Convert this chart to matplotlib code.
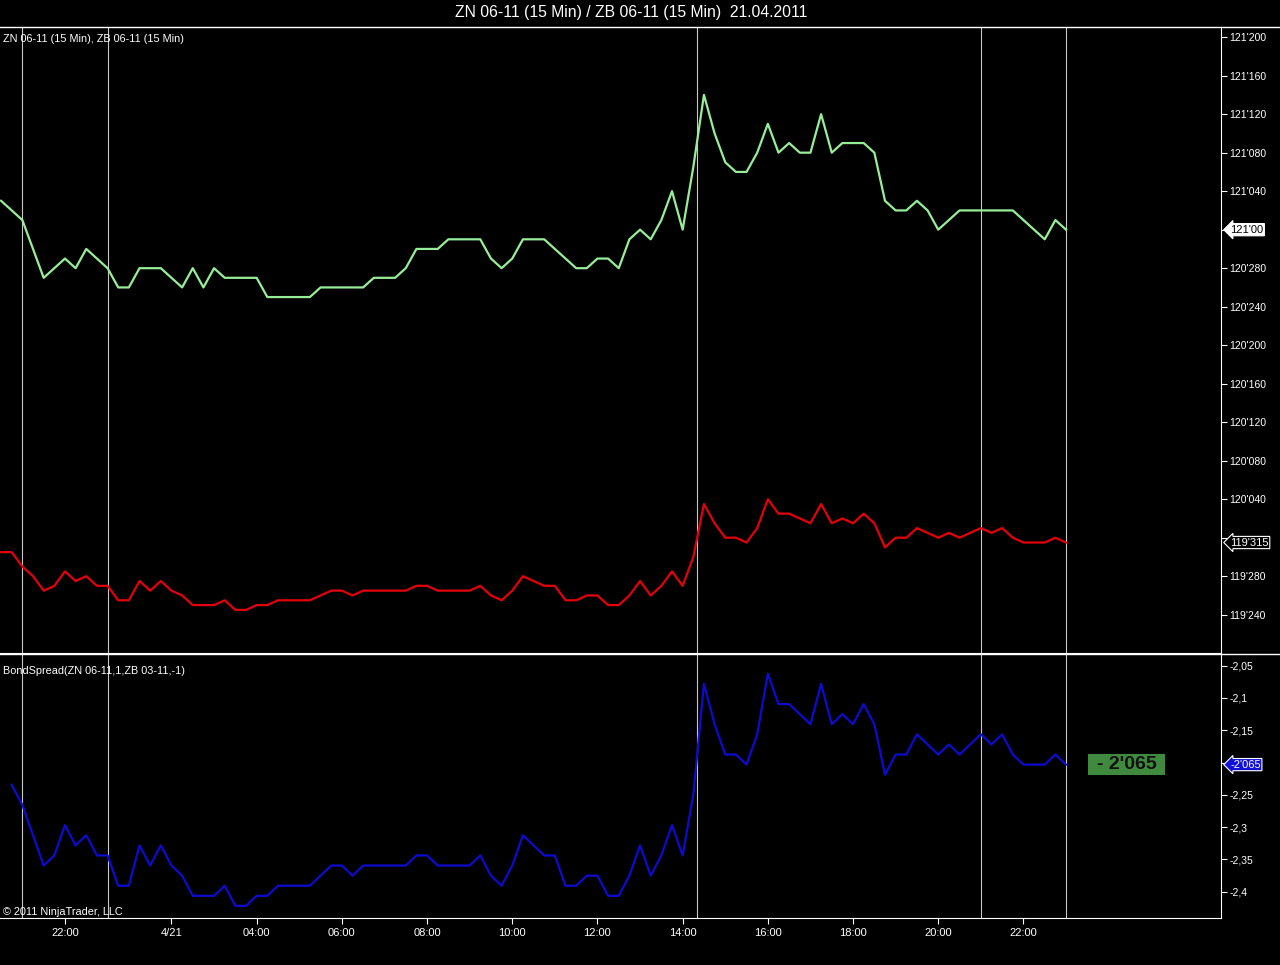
import matplotlib
matplotlib.use('Agg')
import matplotlib.pyplot as plt
import matplotlib.transforms as mtransforms
from matplotlib.lines import Line2D
from matplotlib.patches import Rectangle
import numpy as np

plt.rcParams['font.family'] = ['Liberation Sans', 'DejaVu Sans']

# 15 min bars from 20.04 20:30 to 21.04 23:00
# ZN in 32nds above 121'000
zn_32 = [3, 2, 1, -2, -5, -4, -3, -4, -2, -3, -4,
         -6, -6, -4, -4, -4, -5, -6, -4, -6, -4,
         -5, -5, -5, -5, -7, -7, -7, -7, -7, -6,
         -6, -6, -6, -6, -5, -5, -5, -4, -2, -2,
         -2, -1, -1, -1, -1, -3, -4, -3, -1, -1,
         -1, -2, -3, -4, -4, -3, -3, -4, -1, 0,
         -1, 1, 4, 0, 6.5, 14, 10, 7, 6, 6,
         8, 11, 8, 9, 8, 8, 12, 8, 9, 9,
         9, 8, 3, 2, 2, 3, 2, 0, 1, 2,
         2, 2, 2, 2, 2, 1, 0, -1, 1, 0]
# ZB in 32nds above 120'000
zb_32 = [-1.5, -1.5, -3, -4, -5.5, -5, -3.5, -4.5, -4, -5, -5,
         -6.5, -6.5, -4.5, -5.5, -4.5, -5.5, -6, -7, -7, -7,
         -6.5, -7.5, -7.5, -7, -7, -6.5, -6.5, -6.5, -6.5, -6,
         -5.5, -5.5, -6, -5.5, -5.5, -5.5, -5.5, -5.5, -5, -5,
         -5.5, -5.5, -5.5, -5.5, -5, -6, -6.5, -5.5, -4, -4.5,
         -5, -5, -6.5, -6.5, -6, -6, -7, -7, -6, -4.5,
         -6, -5, -3.5, -5, -2, 3.5, 1.5, 0, 0, -0.5,
         1, 4, 2.5, 2.5, 2, 1.5, 3.5, 1.5, 2, 1.5,
         2.5, 1.5, -1, 0, 0, 1, 0.5, 0, 0.5, 0,
         0.5, 1, 0.5, 1, 0, -0.5, -0.5, -0.5, 0, -0.5]
# BondSpread in 64ths below -2
spread_64 = [np.nan, 15, 17, 20, 23, 22, 19, 21, 20, 22, 22,
             25, 25, 21, 23, 21, 23, 24, 26, 26, 26,
             25, 27, 27, 26, 26, 25, 25, 25, 25, 24,
             23, 23, 24, 23, 23, 23, 23, 23, 22, 22,
             23, 23, 23, 23, 22, 24, 25, 23, 20, 21,
             22, 22, 25, 25, 24, 24, 26, 26, 24, 21,
             24, 22, 19, 22, 16, 5, 9, 12, 12, 13,
             10, 4, 7, 7, 8, 9, 5, 9, 8, 9,
             7, 9, 14, 12, 12, 10, 11, 12, 11, 12,
             11, 10, 11, 10, 12, 13, 13, 13, 12, 13]

time_ticks = [6, 16, 24, 32, 40, 48, 56, 64, 72, 80, 88, 96]
time_labels = ['22:00', '4/21', '04:00', '06:00', '08:00', '10:00',
               '12:00', '14:00', '16:00', '18:00', '20:00', '22:00']
session_lines = [2, 10, 65.33, 92, 100]

price_ticks = np.arange(119.75, 121.626, 0.125)
spread_ticks = [-2.05, -2.1, -2.15, -2.2, -2.25, -2.3, -2.35, -2.4]
# tick labels hidden behind the last-value markers
hidden_price = [121.0, 120.0]
hidden_spread = [-2.2]

zn = 121 + np.array(zn_32) / 32
zb = 120 + np.array(zb_32) / 32
spread = -2 - np.array(spread_64) / 64
bars = np.arange(len(zn))


def fmt32(p):
    whole = int(np.floor(p + 1e-9))
    frac = int(round((p - whole) * 320))
    return f"{whole}'{frac:03d}"


W, H = 1280, 965
fig = plt.figure(figsize=(W / 100, H / 100), dpi=100, facecolor='black')
ax1 = fig.add_axes([0, 1 - 653 / H, 1221 / W, 626 / H], facecolor='black')
ax2 = fig.add_axes([0, 1 - 918 / H, 1221 / W, 264 / H], facecolor='black', sharex=ax1)

for ax in (ax1, ax2):
    for x in session_lines:
        ax.axvline(x, color='#c8c8c8', lw=0.8, zorder=1)
    for s in ('left', 'top'):
        ax.spines[s].set_visible(False)
    ax.spines['right'].set_color('white')
    ax.spines['bottom'].set_color('white')
    ax.yaxis.tick_right()
    ax.tick_params(axis='y', colors='white', length=4, width=0.8, labelsize=7.5, pad=2)

ax1.plot(bars, zn, color='#98ee98', lw=1.6, zorder=3)
ax1.plot(bars, zb, color='#e4000a', lw=1.6, zorder=3)
ax2.plot(bars, spread, color='#0c0cd0', lw=1.6, zorder=3)

ax1.set_xlim(-0.1, 114.55)
ax1.set_ylim(119.6257, 121.658)
ax2.set_ylim(-2.4406, -2.0319)

ax1.set_yticks(price_ticks)
ax1.set_yticklabels(['' if any(abs(p - h) < 1e-6 for h in hidden_price) else fmt32(p)
                     for p in price_ticks])
ax2.set_yticks(spread_ticks)
ax2.set_yticklabels(['' if v in hidden_spread else f"{v:g}".replace('.', ',')
                     for v in spread_ticks])

ax1.tick_params(axis='x', bottom=False, labelbottom=False)
ax2.set_xticks(time_ticks)
ax2.set_xticklabels(time_labels)
ax2.tick_params(axis='x', colors='white', length=4, width=0.8, labelsize=8, pad=3)

# full width separators
for yp in (27, 653.5):
    fig.add_artist(Line2D([0, 1], [1 - yp / H] * 2, color='white', lw=1,
                          transform=fig.transFigure))

fig.text(631 / W, 1 - 13 / H, 'ZN 06-11 (15 Min) / ZB 06-11 (15 Min)  21.04.2011',
         color='white', fontsize=11.3, ha='center', va='center')
fig.text(3 / W, 1 - 39 / H, 'ZN 06-11 (15 Min), ZB 06-11 (15 Min)',
         color='white', fontsize=7.8, ha='left', va='center')
fig.text(3 / W, 1 - 671 / H, 'BondSpread(ZN 06-11,1,ZB 03-11,-1)',
         color='white', fontsize=7.8, ha='left', va='center')
fig.text(3 / W, 1 - 912 / H, '\u00a9 2011 NinjaTrader, LLC',
         color='white', fontsize=7.8, ha='left', va='center')

# last value markers on the price axes
t1 = mtransforms.blended_transform_factory(ax1.transAxes, ax1.transData)
t2 = mtransforms.blended_transform_factory(ax2.transAxes, ax2.transData)
mk = dict(ha='left', va='center', fontsize=8, zorder=10, clip_on=False)
ax1.text(1.0075, zn[-1], "121'00", transform=t1, color='black',
         bbox=dict(boxstyle='larrow,pad=0.1', fc='white', ec='white', lw=0.8), **mk)
ax1.text(1.0075, zb[-1], "119'315", transform=t1, color='white',
         bbox=dict(boxstyle='larrow,pad=0.1', fc='black', ec='white', lw=0.8), **mk)
ax2.text(1.0075, spread[-1], "-2'065", transform=t2, color='white',
         bbox=dict(boxstyle='larrow,pad=0.1', fc='#1010d8', ec='white', lw=0.8), **mk)

# value box next to the spread line
ax2.add_patch(Rectangle((102.1, spread[-1] - 0.0163), 7.2, 0.0325,
                        fc='#3f8a3f', ec='none', zorder=4))
ax2.text(105.7, spread[-1], "- 2'065", ha='center', va='center', fontsize=14,
         fontweight='bold', color='#111111', zorder=5)

fig.savefig('out.png', dpi=100, facecolor='black')
